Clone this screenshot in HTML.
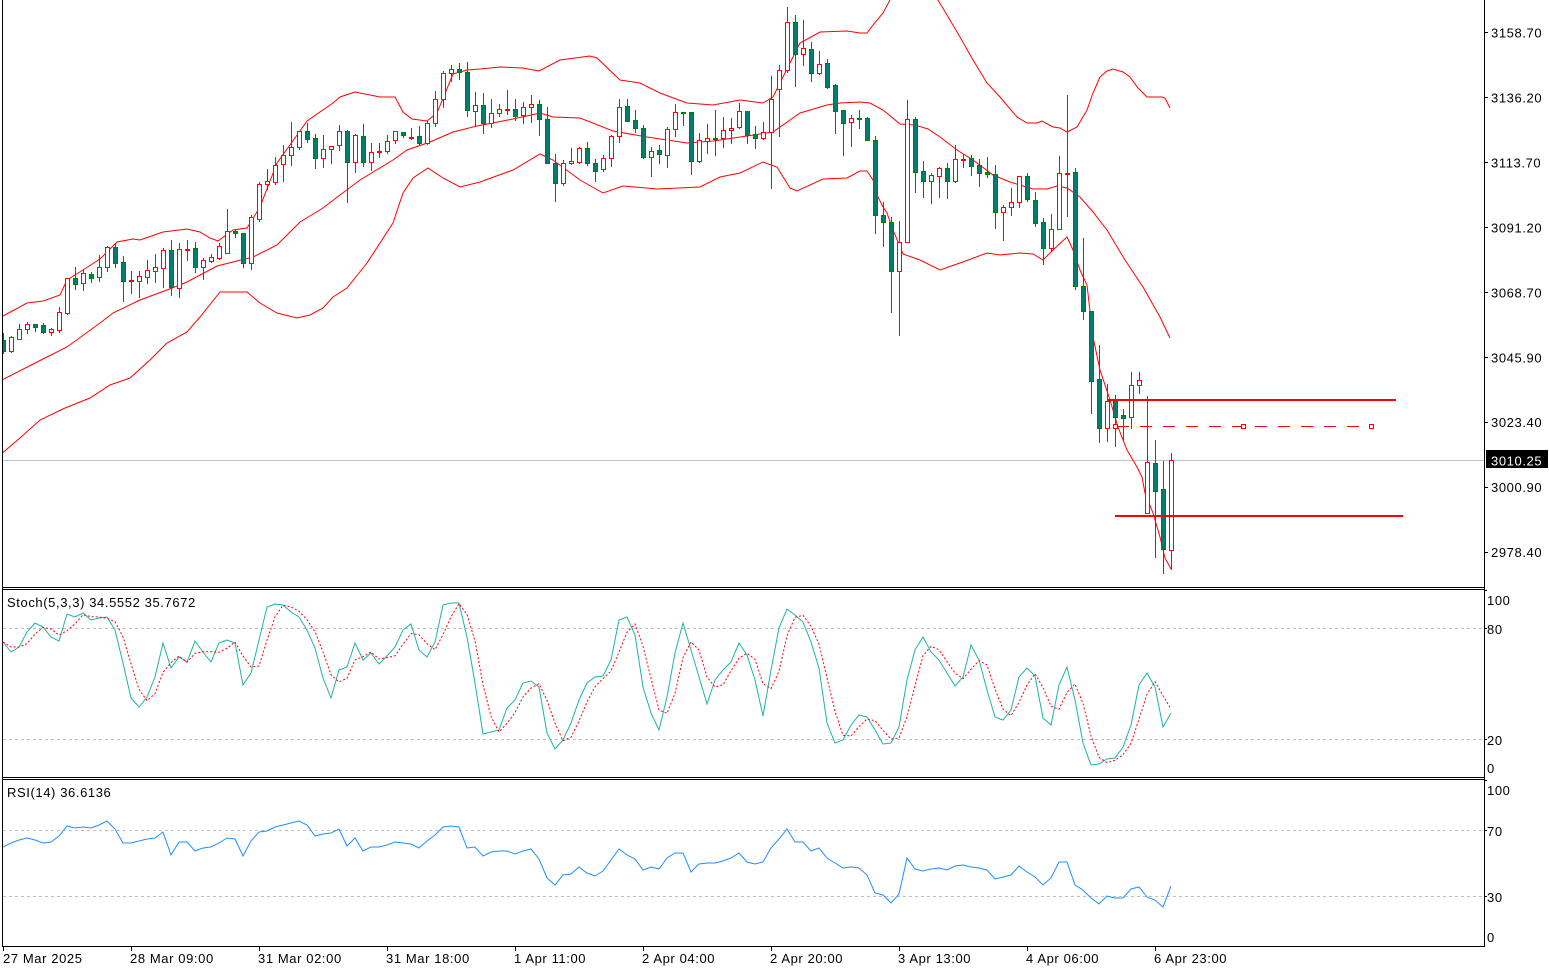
<!DOCTYPE html>
<html>
<head>
<meta charset="utf-8">
<style>
html,body{margin:0;padding:0;background:#fff;width:1549px;height:970px;overflow:hidden}
svg{display:block}
text{font-family:"Liberation Sans",sans-serif;font-size:13px;letter-spacing:0.6px;fill:#000}
</style>
</head>
<body>
<svg width="1549" height="970" viewBox="0 0 1549 970" xmlns="http://www.w3.org/2000/svg">
<defs>
<clipPath id="cm"><rect x="3" y="0" width="1481" height="587"/></clipPath>
<clipPath id="cs"><rect x="3" y="590" width="1481" height="187"/></clipPath>
<clipPath id="cr"><rect x="3" y="780" width="1481" height="166"/></clipPath>
</defs>
<rect width="1549" height="970" fill="#fff"/>

<!-- MAIN PANEL -->
<g clip-path="url(#cm)">
<path d="M3,460.5H1484" stroke="#c0c0c0" stroke-width="1" fill="none"/>
<g fill="none" stroke="#ff0000" stroke-width="1">
<polyline points="0,317 3,316 27,303 43,301 60,295 67,280 83,270 100,259 117,242 133,239 140,240 163,232 187,229 200,232 210,238 218,241 233,230 247,228 260,207 277,163 290,145 307,121 333,103 340,97 355,92 380,97 395,97 403,112 412,119 427,121 437,113 453,74 467,70 480,69 500,67 523,68 539,71 560,60 590,56 597,58 620,80 640,83 660,93 687,103 713,105 740,100 763,103 773,97 783,77 800,43 820,32 847,31 860,33 867,33 873,25 883,13 890,0 914,-20 938,0 947,15 960,37 973,60 987,83 1000,97 1017,117 1027,123 1037,123 1042,121 1053,127 1060,128 1067,132 1077,127 1087,110 1093,93 1100,77 1107,71 1113,69 1123,72 1130,77 1138,88 1147,97 1162,97 1165,98 1170,108"/>
<polyline points="0,381 43,359 67,347 100,323 113,313 140,300 167,290 187,282 217,266 233,262 253,257 277,245 300,222 323,208 340,195 360,180 393,160 407,150 430,142 453,132 477,126 513,119 540,113 553,117 580,118 613,131 647,137 687,143 713,141 747,136 773,132 800,113 827,105 840,103 860,102 870,103 883,110 900,124 915,125 928,129 940,137 957,150 973,160 993,175 1010,182 1033,189 1047,189 1057,186 1067,188 1080,197 1093,212 1107,230 1125,260 1143,287 1160,317 1170,338"/>
<polyline points="0,455 20,438 40,420 65,408 90,398 110,385 130,378 150,360 167,343 187,332 200,317 220,292 247,292 260,303 277,313 297,318 310,315 323,308 333,297 347,288 367,263 393,223 403,193 413,178 428,168 443,178 460,187 480,182 513,170 540,154 553,160 580,180 603,193 623,186 657,189 700,187 720,177 740,173 763,162 777,167 790,188 797,191 823,179 847,178 860,171 867,171 873,180 878,197 883,207 887,213 893,230 903,254 920,260 940,270 960,263 987,253 1000,255 1020,253 1033,254 1043,260 1053,250 1067,237 1073,250 1080,270 1087,285 1093,337 1100,370 1110,400 1118,427 1127,450 1137,467 1142,477 1145,493 1153,513 1160,537 1165,558 1171,569"/>
</g>
<g shape-rendering="crispEdges">
<!-- bull wicks -->
<path fill="none" stroke="#ff0000" stroke-width="1" d="M11.5,336V353 M19.5,324V340 M27.5,322V334 M51.5,328V336 M59.5,307V333 M67.5,278V315 M83.5,269V291 M99.5,255V282 M107.5,246V272 M131.5,271V294 M139.5,271V298 M147.5,260V284 M155.5,254V283 M163.5,248V288 M179.5,243V298 M187.5,240V261 M203.5,258V280 M211.5,254V263 M219.5,243V260 M227.5,209V254 M251.5,215V270 M259.5,182V222 M267.5,169V190 M275.5,157V185 M283.5,145V182 M291.5,122V166 M299.5,131V150 M323.5,135V168 M331.5,146V164 M339.5,125V151 M355.5,134V173 M371.5,143V171 M379.5,143V158 M387.5,135V154 M395.5,131V144 M411.5,128V140 M427.5,121V145 M435.5,91V127 M443.5,71V108 M451.5,65V82 M475.5,92V127 M491.5,99V128 M499.5,104V117 M507.5,90V115 M523.5,102V124 M531.5,95V123 M563.5,160V186 M571.5,148V165 M579.5,147V164 M603.5,155V172 M611.5,135V167 M619.5,99V143 M651.5,147V177 M667.5,127V168 M675.5,104V137 M699.5,133V163 M707.5,124V154 M723.5,117V148 M731.5,118V144 M739.5,103V129 M763.5,122V140 M771.5,76V189 M779.5,65V137 M787.5,7V73 M803.5,20V66 M819.5,51V75 M851.5,115V147 M899.5,221V336 M907.5,100V243 M931.5,173V204 M939.5,167V198 M955.5,145V183 M963.5,154V168 M1003.5,205V241 M1011.5,188V216 M1019.5,176V208 M1051.5,214V251 M1059.5,156V230 M1067.5,95V217 M1107.5,384V442 M1131.5,372V429 M1139.5,372V394 M1147.5,396V514 M1171.5,453V570"/>
<!-- bear wicks -->
<path fill="none" stroke="#008000" stroke-width="1" d="M3.5,333V354 M35.5,324V332 M43.5,323V334 M75.5,267V290 M91.5,272V283 M115.5,243V268 M123.5,256V302 M171.5,240V296 M195.5,242V273 M235.5,229V238 M243.5,233V268 M307.5,123V143 M315.5,134V169 M347.5,130V203 M363.5,124V167 M403.5,132V138 M419.5,126V145 M459.5,63V80 M467.5,62V117 M483.5,93V134 M515.5,99V121 M539.5,100V136 M547.5,107V164 M555.5,154V202 M587.5,142V166 M595.5,159V182 M627.5,99V122 M635.5,110V133 M643.5,125V159 M659.5,145V164 M683.5,112V126 M691.5,112V175 M715.5,110V156 M747.5,111V144 M755.5,126V149 M795.5,15V87 M811.5,42V82 M827.5,59V89 M835.5,84V134 M843.5,110V156 M859.5,110V129 M867.5,117V141 M875.5,136V234 M883.5,202V247 M891.5,217V313 M915.5,117V193 M923.5,161V198 M947.5,163V199 M971.5,155V176 M979.5,159V187 M987.5,157V178 M995.5,165V229 M1027.5,173V202 M1035.5,192V227 M1043.5,218V265 M1075.5,168V290 M1083.5,238V320 M1091.5,311V414 M1099.5,345V443 M1115.5,395V447 M1123.5,409V441 M1155.5,440V558 M1163.5,461V574"/>
<!-- bull bodies -->
<path fill="#ffffff" stroke="#ff0000" stroke-width="1" d="M9.5,337.5h4v14h-4z M17.5,329.5h4v10h-4z M25.5,324.5h4v5h-4z M49.5,329.5h4v3h-4z M57.5,312.5h4v18h-4z M65.5,278.5h4v35h-4z M81.5,273.5h4v10h-4z M97.5,267.5h4v10h-4z M105.5,247.5h4v20h-4z M129.5,280.5h4v1h-4z M137.5,276.5h4v5h-4z M145.5,270.5h4v7h-4z M153.5,267.5h4v4h-4z M161.5,250.5h4v18h-4z M177.5,249.5h4v39h-4z M185.5,249.5h4v1h-4z M201.5,260.5h4v7h-4z M209.5,257.5h4v4h-4z M217.5,246.5h4v12h-4z M225.5,231.5h4v22h-4z M249.5,217.5h4v46h-4z M257.5,184.5h4v35h-4z M265.5,181.5h4v3h-4z M273.5,165.5h4v17h-4z M281.5,155.5h4v9h-4z M289.5,147.5h4v8h-4z M297.5,131.5h4v16h-4z M321.5,149.5h4v9h-4z M329.5,146.5h4v3h-4z M337.5,131.5h4v14h-4z M353.5,135.5h4v27h-4z M369.5,152.5h4v10h-4z M377.5,151.5h4v1h-4z M385.5,141.5h4v10h-4z M393.5,131.5h4v9h-4z M409.5,137.5h4v1h-4z M425.5,123.5h4v20h-4z M433.5,99.5h4v24h-4z M441.5,73.5h4v26h-4z M449.5,69.5h4v4h-4z M473.5,105.5h4v6h-4z M489.5,113.5h4v10h-4z M497.5,109.5h4v4h-4z M505.5,109.5h4v1h-4z M521.5,107.5h4v8h-4z M529.5,104.5h4v3h-4z M561.5,163.5h4v20h-4z M569.5,161.5h4v2h-4z M577.5,148.5h4v14h-4z M601.5,158.5h4v11h-4z M609.5,136.5h4v22h-4z M617.5,107.5h4v29h-4z M649.5,151.5h4v6h-4z M665.5,129.5h4v26h-4z M673.5,112.5h4v17h-4z M697.5,140.5h4v21h-4z M705.5,138.5h4v3h-4z M721.5,130.5h4v8h-4z M729.5,128.5h4v2h-4z M737.5,111.5h4v16h-4z M761.5,132.5h4v6h-4z M769.5,99.5h4v33h-4z M777.5,70.5h4v19h-4z M785.5,22.5h4v48h-4z M801.5,48.5h4v6h-4z M817.5,64.5h4v9h-4z M849.5,118.5h4v4h-4z M897.5,242.5h4v29h-4z M905.5,119.5h4v123h-4z M929.5,175.5h4v6h-4z M937.5,168.5h4v8h-4z M953.5,159.5h4v22h-4z M961.5,159.5h4v1h-4z M1001.5,207.5h4v5h-4z M1009.5,202.5h4v5h-4z M1017.5,176.5h4v26h-4z M1049.5,229.5h4v19h-4z M1057.5,173.5h4v56h-4z M1065.5,173.5h4v1h-4z M1105.5,401.5h4v27h-4z M1129.5,385.5h4v32h-4z M1137.5,380.5h4v5h-4z M1145.5,462.5h4v51h-4z M1169.5,460.5h4v90h-4z"/>
<!-- bear bodies -->
<path fill="#007d6c" stroke="#008000" stroke-width="1" d="M1.5,340.5h4v11h-4z M33.5,324.5h4v3h-4z M41.5,325.5h4v7h-4z M73.5,278.5h4v6h-4z M89.5,274.5h4v4h-4z M113.5,247.5h4v16h-4z M121.5,262.5h4v19h-4z M169.5,250.5h4v37h-4z M193.5,248.5h4v19h-4z M233.5,231.5h4v2h-4z M241.5,233.5h4v30h-4z M305.5,131.5h4v8h-4z M313.5,138.5h4v20h-4z M345.5,131.5h4v31h-4z M361.5,136.5h4v26h-4z M401.5,132.5h4v3h-4z M417.5,136.5h4v7h-4z M457.5,69.5h4v3h-4z M465.5,72.5h4v38h-4z M481.5,105.5h4v18h-4z M513.5,109.5h4v7h-4z M537.5,104.5h4v15h-4z M545.5,119.5h4v44h-4z M553.5,163.5h4v20h-4z M585.5,148.5h4v15h-4z M593.5,163.5h4v8h-4z M625.5,106.5h4v15h-4z M633.5,120.5h4v8h-4z M641.5,128.5h4v29h-4z M657.5,150.5h4v4h-4z M681.5,112.5h4v1h-4z M689.5,112.5h4v49h-4z M713.5,138.5h4v1h-4z M745.5,111.5h4v24h-4z M753.5,134.5h4v4h-4z M793.5,22.5h4v32h-4z M809.5,49.5h4v24h-4z M825.5,63.5h4v24h-4z M833.5,85.5h4v26h-4z M841.5,110.5h4v13h-4z M857.5,118.5h4v1h-4z M865.5,118.5h4v22h-4z M873.5,140.5h4v75h-4z M881.5,215.5h4v7h-4z M889.5,222.5h4v49h-4z M913.5,119.5h4v53h-4z M921.5,171.5h4v10h-4z M945.5,168.5h4v13h-4z M969.5,158.5h4v8h-4z M977.5,165.5h4v8h-4z M985.5,172.5h4v2h-4z M993.5,174.5h4v38h-4z M1025.5,176.5h4v23h-4z M1033.5,200.5h4v23h-4z M1041.5,222.5h4v26h-4z M1073.5,172.5h4v114h-4z M1081.5,286.5h4v25h-4z M1089.5,311.5h4v70h-4z M1097.5,379.5h4v49h-4z M1113.5,401.5h4v16h-4z M1121.5,415.5h4v3h-4z M1153.5,463.5h4v28h-4z M1161.5,489.5h4v60h-4z"/>
</g>
<!-- objects -->
<g shape-rendering="crispEdges">
<path d="M1107,400H1396" stroke="#ff0000" stroke-width="2" fill="none"/>
<path d="M1115,516H1403" stroke="#ff0000" stroke-width="2" fill="none"/>
<path d="M1117,426.5H1369" stroke="#ff0000" stroke-width="1" stroke-dasharray="12,11" fill="none"/>
<rect x="1113.5" y="424.5" width="4" height="4" fill="#fff" stroke="#ff0000"/>
<rect x="1241.5" y="424.5" width="4" height="4" fill="#fff" stroke="#ff0000"/>
<rect x="1369.5" y="424.5" width="4" height="4" fill="#fff" stroke="#ff0000"/>
</g>
</g>

<!-- STOCH PANEL -->
<g clip-path="url(#cs)">
<path d="M3,628.5H1484 M3,739.5H1484" stroke="#c0c0c0" stroke-width="1" stroke-dasharray="3,3" fill="none"/>
<polyline fill="none" stroke="#20b2aa" stroke-width="1" points="3,642 11,652 19,647 27,632 35,623 43,627 51,637 59,641 67,614 75,617 83,613 91,620 99,618 107,617 115,630 123,663 131,698 139,707 147,697 155,677 163,643 171,668 179,657 187,662 195,641 203,652 211,662 219,643 227,640 235,643 243,685 251,673 259,640 267,607 275,604 283,605 291,612 299,617 307,630 315,648 323,678 331,698 339,670 347,667 355,643 363,660 371,653 379,664 387,656 395,647 403,630 411,624 419,650 427,657 435,642 443,605 451,603 459,603 467,637 475,683 483,734 491,732 499,730 507,708 515,700 523,683 531,681 539,687 547,733 555,749 563,740 571,723 579,700 587,683 595,677 603,676 611,660 619,620 627,617 635,635 643,687 651,713 659,730 667,697 675,653 683,623 691,650 699,677 707,704 715,680 723,670 731,662 739,643 747,655 755,680 763,716 771,670 779,628 787,609 795,615 803,622 811,642 819,668 827,723 835,743 843,740 851,725 859,715 867,717 875,730 883,744 891,743 899,727 907,680 915,650 923,637 931,652 939,660 947,673 955,686 963,677 971,645 979,660 987,690 995,717 1003,720 1011,710 1019,677 1027,668 1035,676 1043,718 1051,725 1059,685 1067,667 1075,700 1083,743 1091,765 1099,764 1107,759 1115,758 1123,747 1131,725 1139,685 1147,673 1155,687 1163,727 1171,713"/>
<polyline fill="none" stroke="#ff0000" stroke-width="1" stroke-dasharray="2,2" points="3,642 11,647 19,647 27,643.7 35,634 43,627.3 51,629 59,635 67,630.7 75,624 83,614.7 91,616.7 99,617 107,618.3 115,621.7 123,636.7 131,663.7 139,689.3 147,700.7 155,693.7 163,672.3 171,662.7 179,656 187,662.3 195,653.3 203,651.7 211,651.7 219,652.3 227,648.3 235,642 243,656 251,667 259,666 267,640 275,617 283,605.3 291,607 299,611.3 307,619.7 315,631.7 323,652 331,674.7 339,682 347,678.3 355,660 363,656.7 371,652 379,659 387,657.7 395,655.7 403,644.3 411,633.7 419,634.7 427,643.7 435,649.7 443,634.7 451,616.7 459,603.7 467,614.3 475,641 483,684.7 491,716.3 499,732 507,723.3 515,712.7 523,697 531,688 539,683.7 547,700.3 555,723 563,740.7 571,737.3 579,721 587,702 595,686.7 603,678.7 611,671 619,652 627,632.3 635,624 643,646.3 651,678.3 659,710 667,713.3 675,693.3 683,657.7 691,642 699,650 707,677 715,687 723,684.7 731,670.7 739,658.3 747,653.3 755,659.3 763,683.7 771,688.7 779,671.3 787,635.7 795,617.3 803,615.3 811,626.3 819,644 827,677.7 835,711.3 843,735.3 851,736 859,726.7 867,719 875,720.7 883,730.3 891,739 899,738 907,716.7 915,685.7 923,655.7 931,646.3 939,649.7 947,661.7 955,673 963,678.7 971,669.3 979,660.7 987,665 995,689 1003,709 1011,715.7 1019,702.3 1027,685 1035,673.7 1043,687.3 1051,706.3 1059,709.3 1067,692.3 1075,684 1083,703.3 1091,736 1099,757.3 1107,762.7 1115,760.3 1123,754.7 1131,743.3 1139,719 1147,694.3 1155,681.7 1163,695.7 1171,709"/>
</g>
<text x="7" y="607">Stoch(5,3,3) 34.5552 35.7672</text>

<!-- RSI PANEL -->
<g clip-path="url(#cr)">
<path d="M3,830.5H1484 M3,896.5H1484" stroke="#c0c0c0" stroke-width="1" stroke-dasharray="3,3" fill="none"/>
<polyline fill="none" stroke="#1e90ff" stroke-width="1" points="3,847 11,843 19,840 27,838 35,840 43,843 51,842 59,836 67,826 75,828 83,827 91,828 99,825 107,821 115,829 123,843 131,843 139,841 147,839 155,838 163,832 171,855 179,842 187,842 195,851 203,848 211,847 219,843 227,838 235,839 243,856 251,841 259,832 267,831 275,827 283,825 291,823 299,821 307,825 315,836 323,834 331,833 339,829 347,846 355,838 363,851 371,847 379,847 387,845 395,842 403,843 411,844 419,848 427,841 435,835 443,827 451,826 459,827 467,848 475,847 483,856 491,852 499,851 507,851 515,854 523,851 531,849 539,859 547,878 555,885 563,875 571,874 579,867 587,873 595,876 603,871 611,860 619,849 627,855 635,859 643,870 651,867 659,869 667,858 675,853 683,853 691,872 699,864 707,863 715,863 723,861 731,858 739,853 747,862 755,864 763,862 771,848 779,839 787,829 795,842 803,842 811,851 819,848 827,858 835,863 843,868 851,867 859,868 867,875 875,893 883,895 891,903 899,894 907,858 915,869 923,871 931,869 939,868 947,870 955,866 963,865 971,867 979,868 987,870 995,879 1003,877 1011,875 1019,866 1027,872 1035,877 1043,885 1051,878 1059,862 1067,862 1075,885 1083,890 1091,898 1099,904 1107,896 1115,898 1123,898 1131,889 1139,887 1147,897 1155,900 1163,907 1171,886"/>
</g>
<text x="7" y="797">RSI(14) 36.6136</text>

<!-- FRAMES -->
<g fill="none" stroke="#000" stroke-width="1" shape-rendering="crispEdges">
<path d="M2.5,0V947"/>
<path d="M1484.5,0V947"/>
<path d="M2,587.5H1485 M2,589.5H1485 M2,777.5H1485 M2,779.5H1485 M2,946.5H1485"/>
<path d="M1485,32.5H1488 M1485,97.5H1488 M1485,162.5H1488 M1485,227.5H1488 M1485,292.5H1488 M1485,357.5H1488 M1485,422.5H1488 M1485,487.5H1488 M1485,552.5H1488"/>
<path d="M1485,590.5H1487 M1485,628.5H1487 M1485,739.5H1487 M1485,780.5H1487 M1485,830.5H1487 M1485,896.5H1487"/>
<path d="M3.5,947V951 M131.5,947V951 M259.5,947V951 M387.5,947V951 M515.5,947V951 M643.5,947V951 M771.5,947V951 M899.5,947V951 M1027.5,947V951 M1155.5,947V951"/>
</g>

<!-- PRICE AXIS LABELS -->
<text x="1491" y="37.7">3158.70</text>
<text x="1491" y="102.5">3136.20</text>
<text x="1491" y="167.5">3113.70</text>
<text x="1491" y="232.5">3091.20</text>
<text x="1491" y="297.5">3068.70</text>
<text x="1491" y="362.5">3045.90</text>
<text x="1491" y="427.2">3023.40</text>
<text x="1491" y="492">3000.90</text>
<text x="1491" y="557">2978.40</text>
<rect x="1486" y="450" width="62" height="18" fill="#000"/>
<text x="1491" y="465.5" style="fill:#fff">3010.25</text>

<!-- STOCH / RSI AXIS LABELS -->
<text x="1487" y="605">100</text>
<text x="1487" y="634">80</text>
<text x="1487" y="745">20</text>
<text x="1487" y="773">0</text>
<text x="1487" y="795">100</text>
<text x="1487" y="836">70</text>
<text x="1487" y="902">30</text>
<text x="1487" y="942">0</text>

<!-- TIME AXIS -->
<text x="3" y="963">27 Mar 2025</text>
<text x="130" y="963">28 Mar 09:00</text>
<text x="258" y="963">31 Mar 02:00</text>
<text x="386" y="963">31 Mar 18:00</text>
<text x="514" y="963">1 Apr 11:00</text>
<text x="642" y="963">2 Apr 04:00</text>
<text x="770" y="963">2 Apr 20:00</text>
<text x="898" y="963">3 Apr 13:00</text>
<text x="1026" y="963">4 Apr 06:00</text>
<text x="1154" y="963">6 Apr 23:00</text>
</svg>
</body>
</html>
